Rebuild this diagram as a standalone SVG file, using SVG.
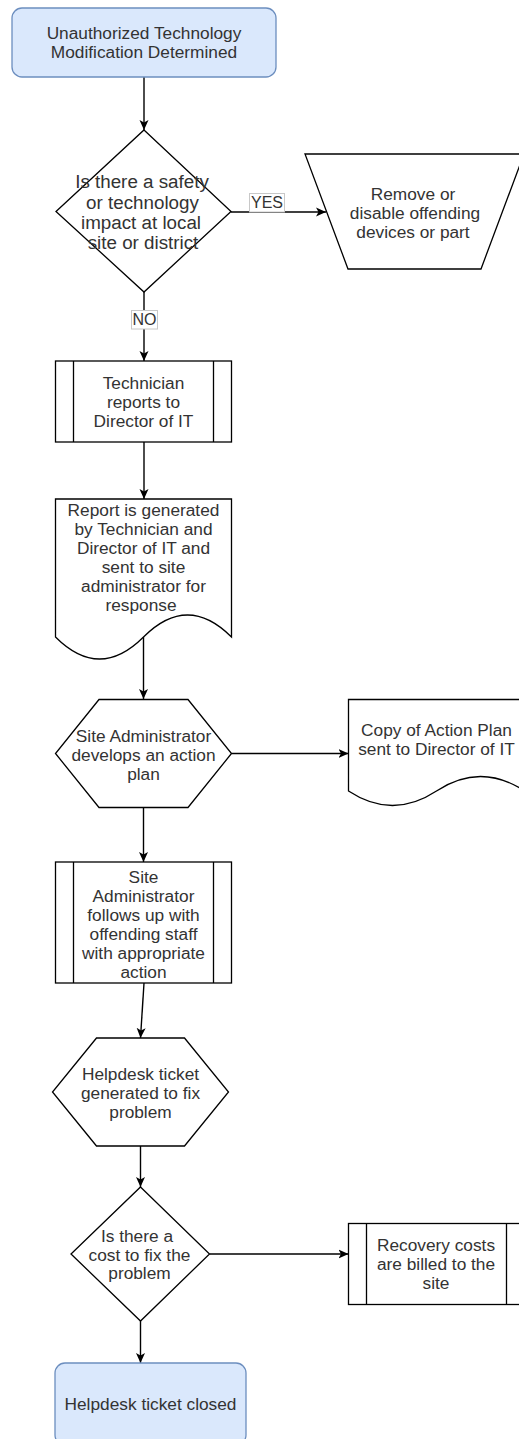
<svg xmlns="http://www.w3.org/2000/svg" width="519" height="1439" viewBox="0 0 519 1439">
<style>
  .t{font-family:"Liberation Sans",Arial,sans-serif;font-size:17.3px;fill:#333;text-anchor:middle}
  .tb{font-family:"Liberation Sans",Arial,sans-serif;font-size:18.8px;fill:#333;text-anchor:middle}
  .lbl{font-family:"Liberation Sans",Arial,sans-serif;font-size:16px;fill:#333;text-anchor:middle}
  .term{fill:#dae8fc;stroke:#6c8ebf;stroke-width:1.3}
  .shp{fill:#fff;stroke:#000;stroke-width:1.3}
  .edge{fill:none;stroke:#000;stroke-width:1.4;marker-end:url(#arr)}
  .lb{fill:#fff;stroke:#c8c8c8;stroke-width:1}
</style>
<defs>
  <marker id="arr" viewBox="0 0 10 10" refX="10" refY="5" markerWidth="10" markerHeight="10" markerUnits="userSpaceOnUse" orient="auto">
    <path d="M0,0.5 L10,5 L0,9.5 L2.5,5 Z" fill="#000"/>
  </marker>
</defs>
<rect width="519" height="1439" fill="#fff"/>

<g id="connectors">
  <path class="edge" d="M144,77 L144,130"/>
  <path class="edge" d="M231,212 L326,212"/>
  <path class="edge" d="M144,292 L144,361"/>
  <path class="edge" d="M144,442 L144,499"/>
  <path class="edge" d="M143.5,637 L143.5,699"/>
  <path class="edge" d="M231.5,753.5 L348.5,753.5"/>
  <path class="edge" d="M143.5,807.5 L143.5,862"/>
  <path class="edge" d="M144,983 L140.5,1038"/>
  <path class="edge" d="M140.5,1146 L140.5,1187"/>
  <path class="edge" d="M209.5,1254 L348.5,1254"/>
  <path class="edge" d="M140.5,1321 L140.5,1363"/>
  <g id="label-yes">
    <rect class="lb" x="249.5" y="193.5" width="35" height="18.5"/>
    <text class="lbl" x="267" y="208.3">YES</text>
  </g>
  <g id="label-no">
    <rect class="lb" x="131.5" y="310.5" width="26" height="18.5"/>
    <text class="lbl" x="144.5" y="325.3">NO</text>
  </g>
</g>

<g id="start">
  <rect class="term" x="12" y="8" width="264" height="69" rx="10" ry="10"/>
  <text class="t" x="144" y="39.3">Unauthorized Technology</text>
  <text class="t" x="144" y="58.3">Modification Determined</text>
</g>

<g id="decision-impact">
  <path class="shp" d="M144,130 L231,211.5 L144,292 L56,211.5 Z"/>
  <text class="tb" x="142" y="188.3">Is there a safety</text>
  <text class="tb" x="142.5" y="208.6">or technology</text>
  <text class="tb" x="141" y="228.9">impact at local</text>
  <text class="tb" x="143" y="249.2">site or district</text>
</g>

<g id="remove">
  <path class="shp" d="M305,154 L524,154 L481,269 L348,269 Z"/>
  <text class="t" x="413" y="199.5">Remove or</text>
  <text class="t" x="415" y="218.5">disable offending</text>
  <text class="t" x="413" y="237.5">devices or part</text>
</g>

<g id="technician-reports">
  <rect class="shp" x="55.5" y="361" width="176" height="81"/>
  <path class="shp" d="M73.5,361 V442 M213.5,361 V442"/>
  <text class="t" x="143.5" y="388.7">Technician</text>
  <text class="t" x="143.5" y="407.7">reports to</text>
  <text class="t" x="143.5" y="426.7">Director of IT</text>
</g>

<g id="report-generated">
  <path class="shp" d="M55.5,499 H231.5 V637 Q187.5,593 143.5,637 Q99.5,681 55.5,637 Z"/>
  <text class="t" x="143.5" y="516">Report is generated</text>
  <text class="t" x="143.5" y="535">by Technician and</text>
  <text class="t" x="143.5" y="554">Director of IT and</text>
  <text class="t" x="143.5" y="573">sent to site</text>
  <text class="t" x="143.5" y="592">administrator for</text>
  <text class="t" x="141" y="611">response</text>
</g>

<g id="action-plan">
  <path class="shp" d="M99,699.5 L188,699.5 L231.5,753.5 L188,807.5 L99,807.5 L55.5,753.5 Z"/>
  <text class="t" x="143.5" y="741.5">Site Administrator</text>
  <text class="t" x="143.5" y="760.5">develops an action</text>
  <text class="t" x="143.5" y="779.5">plan</text>
</g>

<g id="copy-action-plan">
  <path class="shp" d="M348.5,699.5 H524.5 V791 Q480.5,762 436.5,791 Q392.5,820 348.5,791 Z"/>
  <text class="t" x="436.5" y="736">Copy of Action Plan</text>
  <text class="t" x="436.5" y="755">sent to Director of IT</text>
</g>

<g id="follow-up">
  <rect class="shp" x="55.5" y="862" width="176" height="121"/>
  <path class="shp" d="M73.5,862 V983 M213.5,862 V983"/>
  <text class="t" x="143.5" y="882.5">Site</text>
  <text class="t" x="143.5" y="901.5">Administrator</text>
  <text class="t" x="143.5" y="920.5">follows up with</text>
  <text class="t" x="143.5" y="939.5">offending staff</text>
  <text class="t" x="143.5" y="958.5">with appropriate</text>
  <text class="t" x="143.5" y="977.5">action</text>
</g>

<g id="helpdesk-ticket">
  <path class="shp" d="M96.5,1038 L184.5,1038 L228.5,1092 L184.5,1146 L96.5,1146 L52.5,1092 Z"/>
  <text class="t" x="140.5" y="1080">Helpdesk ticket</text>
  <text class="t" x="140.5" y="1099">generated to fix</text>
  <text class="t" x="140.5" y="1118">problem</text>
</g>

<g id="decision-cost">
  <path class="shp" d="M140.5,1187 L209.5,1254 L140.5,1321 L71,1254 Z"/>
  <text class="t" x="137" y="1242">Is there a</text>
  <text class="t" x="139.5" y="1260.5">cost to fix the</text>
  <text class="t" x="139.5" y="1279">problem</text>
</g>

<g id="recovery-costs">
  <rect class="shp" x="348.5" y="1223.5" width="176" height="81"/>
  <path class="shp" d="M366.5,1223.5 V1304.5 M506.5,1223.5 V1304.5"/>
  <text class="t" x="436" y="1251">Recovery costs</text>
  <text class="t" x="436" y="1270">are billed to the</text>
  <text class="t" x="436" y="1289">site</text>
</g>

<g id="end">
  <rect class="term" x="55" y="1363" width="191" height="82" rx="10" ry="10"/>
  <text class="t" x="150.5" y="1410">Helpdesk ticket closed</text>
</g>
</svg>
